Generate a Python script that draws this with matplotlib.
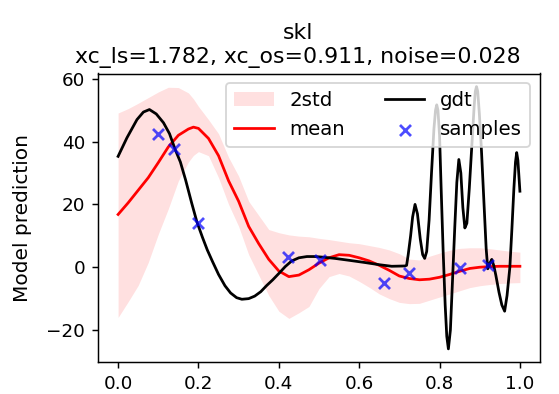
import numpy as np
import matplotlib
matplotlib.use("Agg")
import matplotlib.pyplot as plt

# grid for the GP mean and 2std band
x_grid = [0.000, 0.025, 0.050, 0.075, 0.100, 0.125, 0.150, 0.175, 0.1875, 0.200,
          0.225, 0.250, 0.275, 0.300, 0.325, 0.350, 0.375, 0.400, 0.425, 0.450,
          0.475, 0.500, 0.525, 0.550, 0.575, 0.600, 0.625, 0.650, 0.675, 0.700,
          0.725, 0.750, 0.775, 0.800, 0.825, 0.850, 0.875, 0.900, 0.925, 0.950,
          0.975, 1.000]
mean = [16.8, 20.5, 24.5, 28.5, 33.3, 38.3, 42.0, 44.0, 44.6, 44.2,
        41.0, 35.5, 27.5, 21.0, 13.0, 7.5, 2.5, -1.2, -3.0, -2.5,
        -0.8, 1.3, 3.0, 4.0, 3.8, 3.0, 2.0, 0.6, -1.0, -2.8,
        -3.6, -4.0, -3.8, -3.2, -2.3, -1.3, -0.4, 0.0, 0.2, 0.3,
        0.3, 0.3]
upper = [49.1, 50.5, 52.2, 54.0, 55.8, 57.3, 57.2, 55.5, 53.6, 51.2,
         47.0, 42.5, 35.0, 29.0, 21.0, 16.5, 12.0, 11.0, 10.3, 9.9,
         9.7, 9.2, 8.8, 8.3, 7.8, 7.5, 6.9, 6.3, 5.5, 4.3,
         2.6, 2.3, 3.5, 4.5, 5.4, 6.0, 6.2, 6.2, 5.9, 5.5,
         5.1, 4.8]
lower = [-16.0, -11.0, -5.8, 1.5, 10.5, 18.6, 27.5, 33.5, 35.6, 36.8,
         35.5, 28.5, 20.0, 13.0, 4.0, -2.5, -9.0, -14.0, -16.3, -14.5,
         -12.5, -6.8, -3.0, -2.0, -2.8, -4.5, -6.4, -8.5, -10.0, -11.2,
         -11.6, -11.5, -10.5, -9.5, -8.5, -7.5, -6.5, -5.9, -5.5, -5.2,
         -5.0, -4.9]

# ground truth function
gdt_x = [0.000, 0.022, 0.047, 0.063, 0.078, 0.095, 0.113, 0.128, 0.142, 0.155,
         0.168, 0.183, 0.196, 0.210, 0.222, 0.235, 0.250, 0.266, 0.280, 0.295,
         0.308, 0.325, 0.340, 0.355, 0.370, 0.385, 0.400, 0.416, 0.432, 0.450,
         0.470, 0.490, 0.510, 0.540, 0.575, 0.614, 0.650, 0.681, 0.714, 0.718,
         0.722, 0.728, 0.733, 0.739, 0.745, 0.752, 0.758, 0.763, 0.768, 0.774,
         0.780, 0.786, 0.790, 0.793, 0.796, 0.800, 0.804, 0.809, 0.814, 0.818,
         0.822, 0.827, 0.832, 0.838, 0.843, 0.848, 0.853, 0.858, 0.863, 0.868,
         0.874, 0.880, 0.886, 0.889, 0.892, 0.895, 0.899, 0.904, 0.910, 0.916,
         0.920, 0.926, 0.930, 0.935, 0.940, 0.948, 0.955, 0.962, 0.968, 0.975,
         0.980, 0.985, 0.989, 0.992, 0.995, 1.000]
gdt_y = [35.3, 41.2, 47.0, 49.4, 50.2, 48.8, 46.0, 42.5, 37.5, 33.5,
         27.8, 20.5, 14.5, 9.5, 5.5, 1.8, -2.3, -5.9, -8.2, -9.7,
         -10.2, -10.0, -9.2, -7.8, -5.8, -4.0, -2.0, 0.2, 2.0, 3.0,
         3.4, 3.4, 3.2, 2.8, 2.2, 1.5, 0.8, 0.3, 0.4, 0.6,
         4.0, 10.0, 16.0, 20.0, 17.0, 9.0, 4.0, 2.8, 5.0, 15.0,
         30.0, 44.0, 50.0, 51.7, 50.0, 42.0, 25.0, 5.0, -12.0, -22.0,
         -26.0, -20.0, -5.0, 13.0, 27.0, 34.3, 30.0, 19.0, 12.5, 14.0,
         25.0, 38.0, 51.0, 56.0, 57.5, 56.0, 49.0, 38.0, 22.0, 6.0,
         -0.5, 1.5, 2.5, 0.5, -2.5, -8.0, -12.0, -14.0, -9.0, 0.0,
         12.0, 25.0, 33.5, 36.5, 34.0, 24.2]

# noisy samples
samp_x = [0.100, 0.140, 0.200, 0.423, 0.502, 0.662, 0.724, 0.851, 0.920]
samp_y = [42.4, 37.7, 14.1, 3.2, 2.3, -5.0, -1.9, -0.3, 0.6]

title = "skl\nxc_ls=1.782, xc_os=0.911, noise=0.028"

fig = plt.figure(figsize=(559 / 132, 394 / 132), dpi=132)
ax = fig.add_axes([98 / 559, 1 - 362 / 394, (540 - 98) / 559, (362 - 73.5) / 394])

ax.fill_between(x_grid, lower, upper, color="r", alpha=0.12, linewidth=0, label="2std")
ax.plot(x_grid, mean, color="r", label="mean")
ax.plot(gdt_x, gdt_y, color="k", label="gdt")
ax.scatter(samp_x, samp_y, marker="x", color="b", alpha=0.7, zorder=3, label="samples")

ax.set_ylabel("Model prediction", fontsize=11, labelpad=8)
ax.set_title(title, x=0.453)
ax.legend(loc="upper right", ncol=2, fontsize=10.8)

fig.savefig("out.png", dpi=132)
